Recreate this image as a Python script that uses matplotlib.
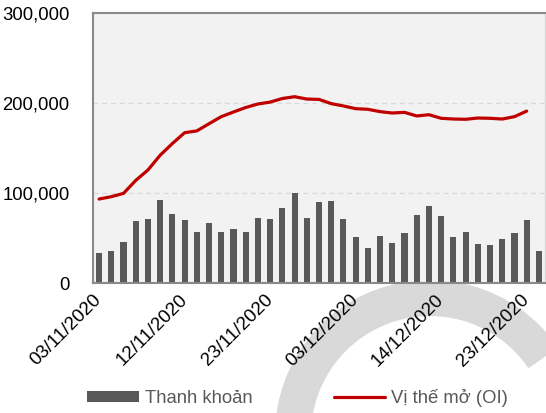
import numpy as np
import matplotlib
matplotlib.use("Agg")
import matplotlib.pyplot as plt
from matplotlib.patches import Arc
from matplotlib.ticker import FuncFormatter

plt.rcParams['font.family'] = ['Liberation Sans', 'DejaVu Sans']

# trading days (one day missing at end of November in the source data)
dates = ['03/11/2020', '04/11/2020', '05/11/2020', '06/11/2020', '09/11/2020',
         '10/11/2020', '11/11/2020', '12/11/2020', '13/11/2020', '16/11/2020',
         '17/11/2020', '18/11/2020', '19/11/2020', '20/11/2020', '23/11/2020',
         '25/11/2020', '26/11/2020', '27/11/2020', '30/11/2020', '01/12/2020',
         '02/12/2020', '03/12/2020', '04/12/2020', '07/12/2020', '08/12/2020',
         '09/12/2020', '10/12/2020', '11/12/2020', '14/12/2020', '15/12/2020',
         '16/12/2020', '17/12/2020', '18/12/2020', '21/12/2020', '22/12/2020',
         '23/12/2020', '24/12/2020']

# Thanh khoản (volume)
volume = [33700, 35900, 45200, 68500, 71100, 92600, 76300, 69600, 57000, 66300,
          57000, 59600, 57000, 72600, 70700, 83000, 100400, 71900, 89600, 90700,
          71100, 50700, 39300, 52600, 44100, 55600, 75200, 85600, 74100, 51100,
          56300, 43700, 41900, 48500, 55200, 69600, 35200]

# Vị thế mở (OI) - no value for the last day
oi = [93300, 95900, 99600, 114000, 125600, 142000, 155000, 167000, 169000, 177000,
      184800, 190000, 195000, 198900, 201000, 205000, 207000, 204400, 204000, 199300,
      196700, 193700, 193000, 190400, 188900, 189600, 185600, 187000, 183000, 182200,
      181900, 183300, 183000, 182200, 184800, 191000, np.nan]

label_every = 7

W, H = 546, 413
fig = plt.figure(figsize=(W / 100, H / 100), dpi=100)
ax = fig.add_axes([93 / W, 1 - 283 / H, 452 / W, 270 / H])
ax.set_facecolor('#f2f2f2')

x = np.arange(len(dates))
bars = ax.bar(x, volume, width=0.5, color='#595959', zorder=2, label='Thanh khoản')
line, = ax.plot(x, oi, color='#c00000', lw=2.3, zorder=3, label='Vị thế mở (OI)',
                solid_capstyle='round', solid_joinstyle='round')

ax.set_xlim(-0.5, len(dates) - 0.5)
ax.set_ylim(0, 300000)
ax.set_yticks([0, 100000, 200000, 300000])
ax.yaxis.set_major_formatter(FuncFormatter(lambda v, p: f'{int(v):,}'))
ax.yaxis.grid(True, color='#d9d9d9', ls=(0, (4, 3)), lw=0.9, zorder=1)
ax.set_axisbelow(True)

ax.set_xticks(x[::label_every])
ax.set_xticklabels(dates[::label_every], rotation=45, ha='right', va='center',
                   rotation_mode='anchor', fontsize=13.5)
ax.tick_params(axis='x', length=0, pad=10)
ax.tick_params(axis='y', length=0, pad=17, labelsize=13.3)

for s in ['left', 'bottom', 'top']:
    ax.spines[s].set_color('#898989')
    ax.spines[s].set_linewidth(1.5)
ax.spines['right'].set_color('#d9d9d9')
ax.spines['right'].set_linewidth(1.0)

# watermark arc behind the chart
arc = Arc((430 / W, -22 / H), 2 * 137 / W, 2 * 137 / H, theta1=42, theta2=200,
          transform=fig.transFigure, color='#d9d9d9', lw=26, zorder=-1)
fig.add_artist(arc)

leg = fig.legend([bars, line], ['Thanh khoản', 'Vị thế mở (OI)'],
                 loc='center left', bbox_to_anchor=(87 / W, 15 / H), ncol=2,
                 frameon=False, fontsize=13.3, handlelength=2.8, handleheight=0.55,
                 handletextpad=0.32, columnspacing=4.4, borderpad=0, borderaxespad=0)
for t in leg.get_texts():
    t.set_color('#595959')

fig.savefig('out.png', dpi=100)
